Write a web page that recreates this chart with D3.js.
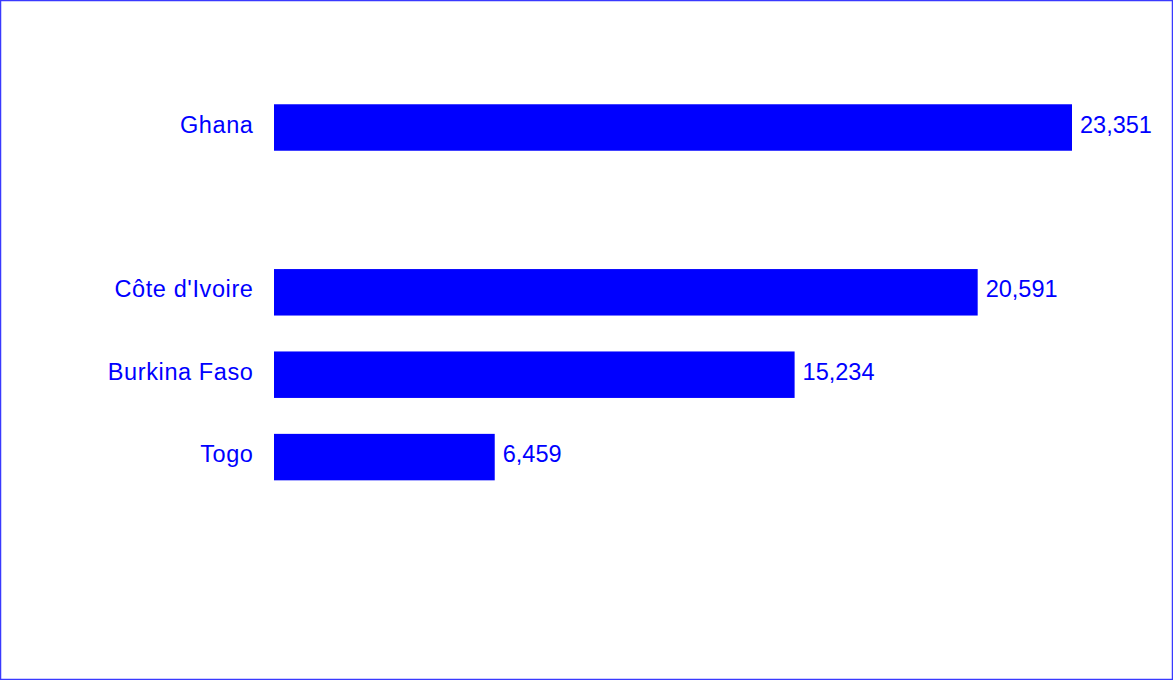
<!DOCTYPE html>
<html>
<head>
<meta charset="utf-8">
<script src="https://cdn.jsdelivr.net/npm/d3@7"></script>
<style>
  html, body { margin: 0; padding: 0; background: #fff; }
  svg { display: block; }
</style>
</head>
<body>
<svg id="chart" width="1173" height="680"></svg>
<script>
// categories (blank slot keeps the gap below Ghana)
const countries = ["Ghana", " ", "Côte d'Ivoire", "Burkina Faso", "Togo"];
const values = [23351, null, 20591, 15234, 6459];

const width = 1173;
const height = 680;
const left = 274; // bars start here
const barColor = "#0000ff";
const fontSize = "23.5px";

const svg = d3.select("#chart");

// frame round the whole picture
svg.append("rect")
  .attr("x", 0.5)
  .attr("y", 0.5)
  .attr("width", width - 1)
  .attr("height", height - 1)
  .attr("fill", "none")
  .attr("stroke", "#3a3aff")
  .attr("stroke-width", 1.5);

const x = d3.scaleLinear()
  .domain([0, 23351])
  .range([left, 1072]);

const y = d3.scaleBand()
  .domain(countries)
  .range([86.3, 498.3])
  .paddingInner(0.436)
  .paddingOuter(0.218);

const rows = countries.map((c, i) => ({ name: c, value: values[i] }))
  .filter(d => d.value != null);

const g = svg.append("g");

g.selectAll(".bar")
  .data(rows)
  .enter()
  .append("rect")
  .attr("class", "bar")
  .attr("x", x(0))
  .attr("y", d => y(d.name))
  .attr("width", d => x(d.value) - x(0))
  .attr("height", y.bandwidth())
  .attr("fill", barColor);

// category labels on the left
g.selectAll(".cat")
  .data(rows)
  .enter()
  .append("text")
  .attr("class", "cat")
  .attr("x", x(0) - 20.5)
  .attr("y", d => y(d.name) + y.bandwidth() / 2)
  .attr("dy", "0.22em")
  .attr("text-anchor", "end")
  .attr("fill", barColor)
  .style("font-family", "'Liberation Sans', Arial, sans-serif")
  .style("font-size", fontSize)
  .style("letter-spacing", "0.6px")
  .text(d => d.name);

// value labels at the bar ends
g.selectAll(".val")
  .data(rows)
  .enter()
  .append("text")
  .attr("class", "val")
  .attr("x", d => x(d.value) + 8)
  .attr("y", d => y(d.name) + y.bandwidth() / 2)
  .attr("dy", "0.22em")
  .attr("fill", barColor)
  .style("font-family", "'Liberation Sans', Arial, sans-serif")
  .style("font-size", fontSize)
  .text(d => d3.format(",")(d.value));
</script>
</body>
</html>
